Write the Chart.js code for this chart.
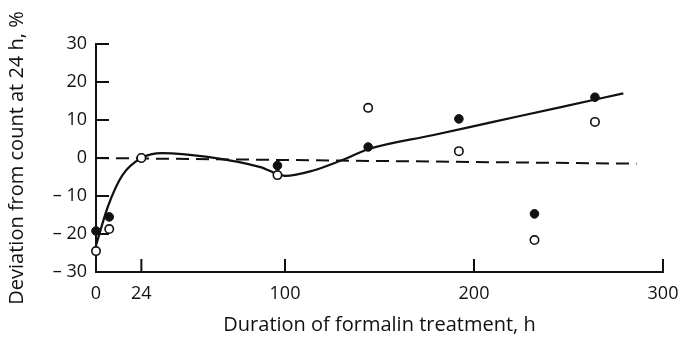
<!DOCTYPE html>
<html>
<head>
<meta charset="utf-8">
<script src="https://cdn.jsdelivr.net/npm/chart.js@4/dist/chart.umd.min.js"></script>
<style>
  html, body { margin: 0; padding: 0; background: #fff; }
  #wrap { width: 681px; height: 339px; }
</style>
</head>
<body>
<div id="wrap"><canvas id="grafik"></canvas></div>
<script>
"use strict";

// hours of formalin treatment, deviation in %
var jamPenuh = [0, 7, 24, 96, 144, 192, 232, 264];
var nilaiPenuh = [-19.2, -15.5, 0, -2, 2.9, 10.3, -14.7, 16];
var jamKosong = [0, 7, 24, 96, 144, 192, 232, 264];
var nilaiKosong = [-24.5, -18.7, 0, -4.5, 13.2, 1.8, -21.6, 9.5];

// hand-fitted curve through the filled points, straight after 144 h
var jamKurva = [0, 6.5, 14, 24, 35, 59, 87, 100, 115, 130, 144, 178, 212, 246, 279];
var nilaiKurva = [-23, -12.5, -4.5, 0, 1.3, 0.3, -2.4, -4.7, -3.3, -0.6, 2.3, 6.0, 9.7, 13.4, 17.0];

// reference level (count at 24 h)
var jamAcuan = [0, 286];
var nilaiAcuan = [0, -1.5];

var tickX = [0, 24, 100, 200, 300];
var tickY = [-30, -20, -10, 0, 10, 20, 30];

function pasangkan(xs, ys) {
  return xs.map(function (x, i) {
    return { x: x, y: ys[i] };
  });
}

var hitam = "#111";
var hurufDasar = "'Open Sans', 'DejaVu Sans', sans-serif";

// small tick marks pointing into the plot
var tandaDalam = {
  id: "tandaDalam",
  afterDraw: function (chart) {
    var ctx = chart.ctx;
    var sx = chart.scales.x;
    var sy = chart.scales.y;
    var area = chart.chartArea;
    ctx.save();
    ctx.strokeStyle = hitam;
    ctx.lineWidth = 2;
    ctx.beginPath();
    tickX.forEach(function (v) {
      if (v === 0) return;
      var px = sx.getPixelForValue(v);
      ctx.moveTo(px, area.bottom);
      ctx.lineTo(px, area.bottom - 13);
    });
    tickY.forEach(function (v) {
      if (v === -30) return;
      var py = sy.getPixelForValue(v);
      ctx.moveTo(area.left, py);
      ctx.lineTo(area.left + 13, py);
    });
    ctx.stroke();
    ctx.restore();
  },
};

let kanvas = document.getElementById("grafik").getContext("2d");

let grafikFormalin = new Chart(kanvas, {
  type: "scatter",
  data: {
    datasets: [
      {
        label: "acuan",
        type: "line",
        data: pasangkan(jamAcuan, nilaiAcuan),
        borderColor: hitam,
        borderWidth: 2,
        borderDash: [13, 7],
        pointRadius: 0,
        fill: false,
        clip: false,
        order: 4,
      },
      {
        label: "kurva",
        type: "line",
        data: pasangkan(jamKurva, nilaiKurva),
        borderColor: hitam,
        borderWidth: 2.2,
        cubicInterpolationMode: "monotone",
        pointRadius: 0,
        fill: false,
        clip: false,
        order: 3,
      },
      {
        label: "penuh",
        data: pasangkan(jamPenuh, nilaiPenuh),
        backgroundColor: hitam,
        borderColor: hitam,
        borderWidth: 1,
        pointRadius: 4.3,
        clip: false,
        order: 2,
      },
      {
        label: "kosong",
        data: pasangkan(jamKosong, nilaiKosong),
        backgroundColor: "#fff",
        borderColor: hitam,
        borderWidth: 1.6,
        pointRadius: 4.2,
        clip: false,
        order: 1,
      },
    ],
  },
  options: {
    responsive: true,
    maintainAspectRatio: false,
    animation: false,
    events: [],
    layout: { padding: { top: 44, right: 18, left: 0, bottom: 0 } },
    plugins: {
      legend: { display: false },
      tooltip: { enabled: false },
    },
    scales: {
      x: {
        type: "linear",
        min: 0,
        max: 300,
        afterBuildTicks: function (scale) {
          scale.ticks = tickX.map(function (v) {
            return { value: v };
          });
        },
        afterFit: function (scale) {
          scale.height = 67;
          scale.paddingLeft = 0;
          scale.paddingRight = 0;
        },
        grid: { display: false, drawTicks: false },
        border: { display: true, color: hitam, width: 2 },
        ticks: {
          color: hitam,
          padding: 11,
          maxRotation: 0,
          autoSkip: false,
          font: { family: hurufDasar, size: 18 },
        },
        title: {
          display: true,
          text: "Duration of formalin treatment, h",
          color: hitam,
          padding: { top: 0, bottom: 2 },
          font: { family: hurufDasar, size: 20 },
        },
      },
      y: {
        type: "linear",
        min: -30,
        max: 30,
        afterBuildTicks: function (scale) {
          scale.ticks = tickY.map(function (v) {
            return { value: v };
          });
        },
        afterFit: function (scale) {
          scale.width = 96;
          scale.paddingTop = 0;
          scale.paddingBottom = 0;
        },
        grid: { display: false, drawTicks: false },
        border: { display: true, color: hitam, width: 2 },
        ticks: {
          color: hitam,
          padding: 9,
          autoSkip: false,
          font: { family: hurufDasar, size: 18 },
          callback: function (v) {
            return v < 0 ? "\u2013 " + Math.abs(v) : String(v);
          },
        },
        title: {
          display: true,
          text: "Deviation from count at 24 h, %",
          color: hitam,
          padding: { top: 5, bottom: 4 },
          font: { family: hurufDasar, size: 20 },
        },
      },
    },
  },
  plugins: [tandaDalam],
});
</script>
</body>
</html>
